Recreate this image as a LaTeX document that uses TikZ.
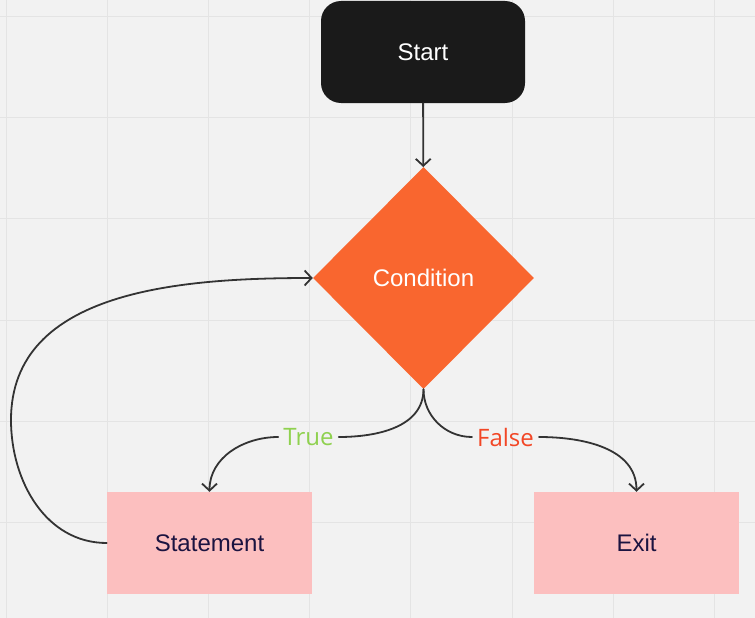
\documentclass[tikz,border=0pt]{standalone}
\usepackage{fontspec}
\setmainfont{Liberation Sans}
\newfontfamily\labelfont{Open Sans}
\usetikzlibrary{shapes.geometric}
\usetikzlibrary{arrows.meta}
\definecolor{canvas}{HTML}{F2F2F2}
\definecolor{gridline}{HTML}{E4E4E4}
\definecolor{startfill}{HTML}{1A1A1A}
\definecolor{condfill}{HTML}{F9662F}
\definecolor{boxfill}{HTML}{FCBFBF}
\definecolor{boxtext}{HTML}{1B1340}
\definecolor{linkcol}{HTML}{333333}
\definecolor{truecol}{HTML}{8FD14F}
\definecolor{falsecol}{HTML}{F24726}

\begin{document}
\begin{tikzpicture}[x = 1pt, y = -1pt, line cap = round, line join = round,
  font = \fontsize{24}{28}\selectfont,
  startbox/.style = {fill = startfill, text = white, rounded corners = 20pt,
    minimum width = 204pt, minimum height = 102pt},
  condbox/.style = {diamond, fill = condfill, text = white, inner sep = 0pt,
    minimum width = 221pt, minimum height = 222pt},
  stepbox/.style = {fill = boxfill, text = boxtext,
    minimum width = 205pt, minimum height = 102pt},
  edgelabel/.style = {font = \labelfont\fontsize{24}{28}\selectfont,
    inner sep = 5pt},
  link/.style = {draw = linkcol, line width = 1.8pt,
    -{Straight Barb[length = 7pt, width = 15pt]}}]

  % canvas and grid
  \fill[canvas] (0, 0) rectangle (755, 618);
  \useasboundingbox (0, 0) rectangle (755, 618);
  \foreach \gx in {6, 107.2, 208.4, 309.6, 410.8, 512, 613.2, 714.4}
    \draw[gridline, line width = 1pt] (\gx, 0) -- (\gx, 618);
  \foreach \gy in {16.5, 117.7, 218.9, 320.1, 421.3, 522.5}
    \draw[gridline, line width = 1pt] (0, \gy) -- (755, \gy);

  % blocks
  \node[startbox] (start) at (423, 52) {Start};
  \node[condbox] (cond) at (423.5, 278) {Condition};
  \node[stepbox] (stmt) at (209.5, 543) {Statement};
  \node[stepbox] (exit) at (636.5, 543) {Exit};

  \node[edgelabel, text = truecol] (truelbl) at (308.5, 437) {True};
  \node[edgelabel, text = falsecol] (falselbl) at (505.5, 437) {False};

  \coordinate (loopturn) at (11, 420);

  % connectors
  \draw[link] (start) -- (cond);
  \draw[link] (cond.south) to[out = -90, in = 0] (truelbl)
    to[out = 180, in = 90] (stmt.north);
  \draw[link] (cond.south) to[out = -90, in = 180] (falselbl)
    to[out = 0, in = 90] (exit.north);
  \draw[link] (stmt.west) to[out = 180, in = -90] (loopturn)
    to[out = 90, in = 180] (cond.west);
\end{tikzpicture}
\end{document}
